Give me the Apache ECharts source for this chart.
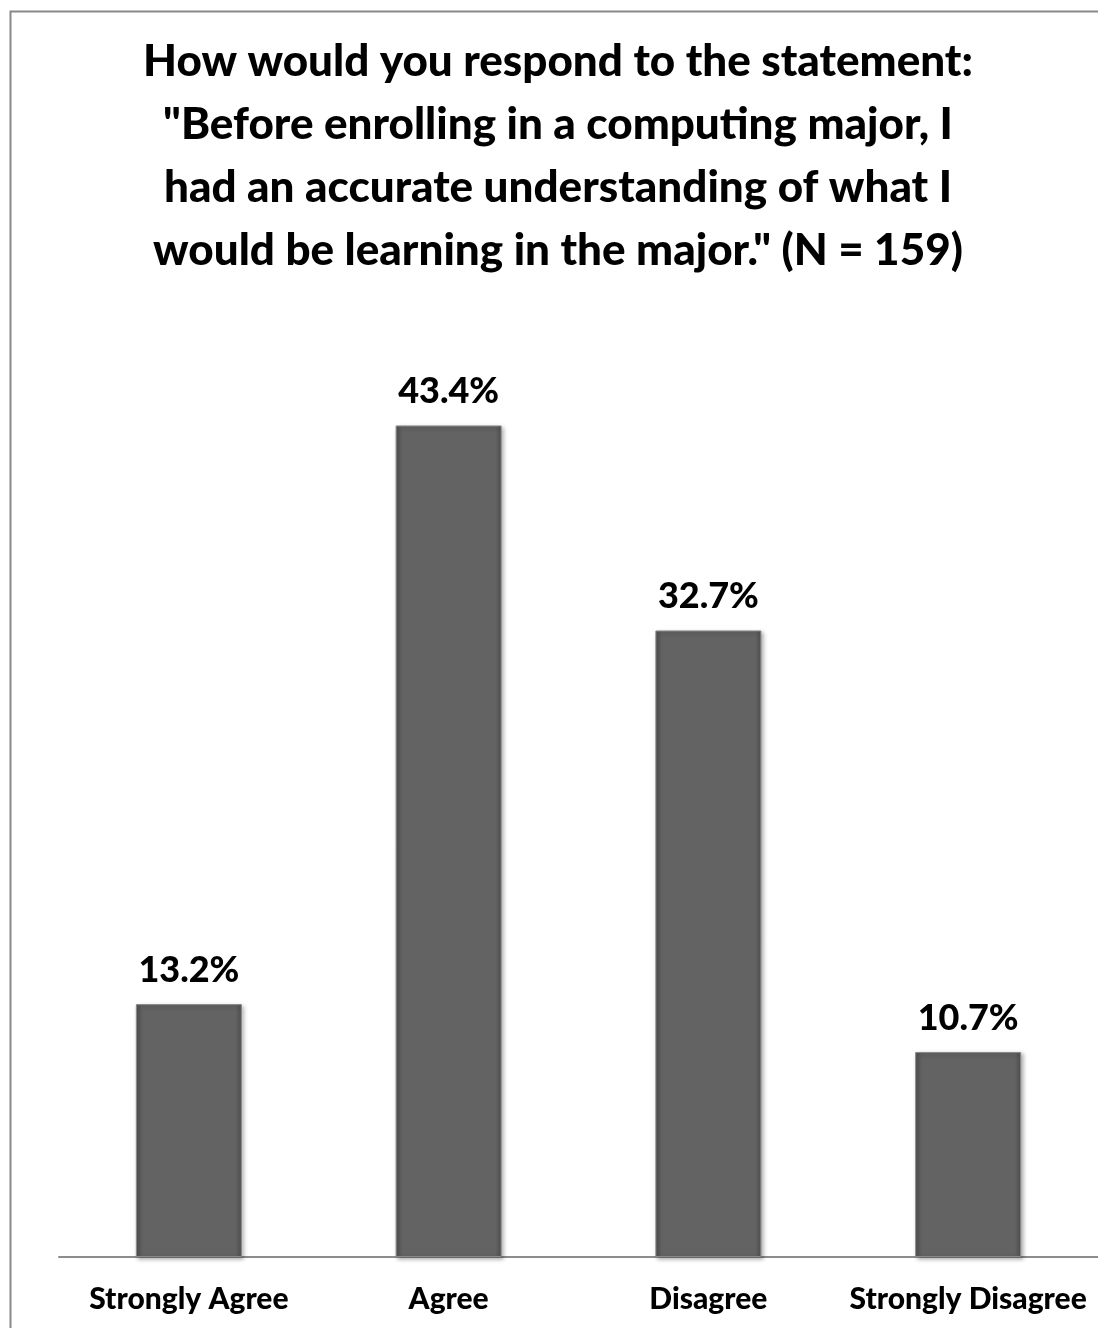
<!DOCTYPE html>
<html><head><meta charset="utf-8">
<script src="https://cdn.jsdelivr.net/npm/echarts@6/dist/echarts.min.js"></script>
<style>html,body{margin:0;padding:0;background:#fff}#c{width:1098px;height:1328px}</style>
</head><body><div id="c"></div>
<script>
const categories = ["Strongly Agree", "Agree", "Disagree", "Strongly Disagree"];
const percentages = [13.2, 43.4, 32.7, 10.7];
const titleText = 'How would you respond to the statement:\n"Before enrolling in a computing major, I\nhad an accurate understanding of what I\nwould be learning in the major." (N = 159)';

const chart = echarts.init(document.getElementById('c'));
chart.setOption({
  animation: false,
  backgroundColor: '#fff',
  graphic: [{
    type: 'rect', left: 8, top: 9,
    shape: { width: 1200, height: 1400 },
    style: { fill: 'none', stroke: '#888', lineWidth: 2 }
  }],
  title: {
    text: titleText, left: 553, top: 25, textAlign: 'center',
    textStyle: { fontFamily: 'Lato', fontWeight: 900, fontSize: 44, lineHeight: 63, color: '#000' }
  },
  grid: { left: 59, top: 299, width: 1049, height: 958 },
  xAxis: {
    type: 'category', data: categories,
    axisLine: { lineStyle: { color: '#8c8c8c', width: 2 } },
    axisTick: { show: false },
    axisLabel: { fontFamily: 'Lato', fontWeight: 900, fontSize: 30, color: '#000', margin: 27, interval: 0 }
  },
  yAxis: { type: 'value', min: 0, max: 50, show: false, splitLine: { show: false } },
  series: [{
    type: 'bar', data: percentages, barWidth: 106,
    itemStyle: {
      color: new echarts.graphic.LinearGradient(0, 0, 1, 0, [
        { offset: 0, color: '#4e4e4e' }, { offset: 0.06, color: '#636363' },
        { offset: 0.94, color: '#636363' }, { offset: 1, color: '#4e4e4e' }
      ]),
      borderColor: '#8a8a8a', borderWidth: 1,
      shadowColor: 'rgba(0,0,0,0.3)', shadowBlur: 4, shadowOffsetX: 2, shadowOffsetY: 2
    },
    label: {
      show: true, position: 'top', distance: 16,
      formatter: p => p.value.toFixed(1) + '%',
      fontFamily: 'Lato', fontWeight: 900, fontSize: 36, color: '#000'
    }
  }]
});
</script></body></html>
